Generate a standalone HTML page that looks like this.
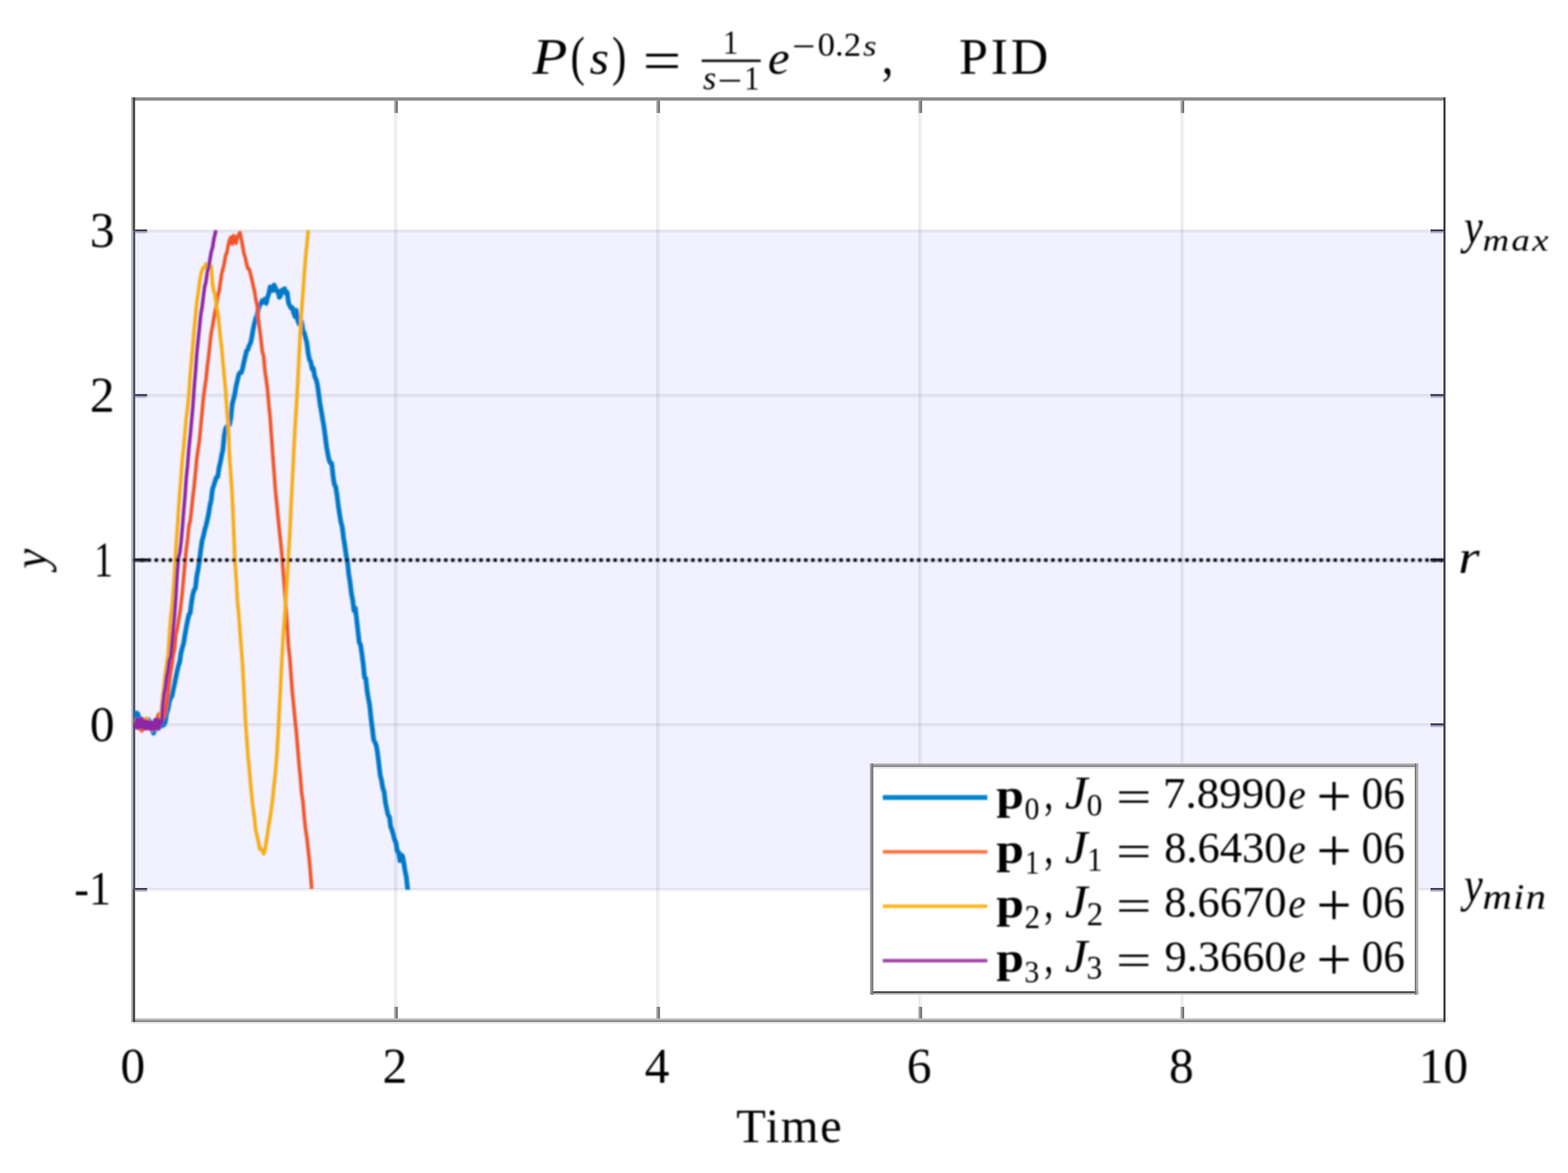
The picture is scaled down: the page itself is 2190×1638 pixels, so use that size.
<!DOCTYPE html>
<html lang="en"><head><meta charset="utf-8"><title>P(s) = 1/(s-1) e^(-0.2s), PID</title>
<style>
html,body{margin:0;padding:0;background:#fff;}
body{width:2190px;height:1638px;overflow:hidden;}
svg{display:block;}
text{font-family:"Liberation Serif", serif;fill:#000;}
</style></head><body>
<svg width="2190" height="1638" viewBox="0 0 2190 1638">
<defs><clipPath id="band"><rect x="187.0" y="321.0" width="1830.5" height="921.6"/></clipPath>
<filter id="soft" x="-2%" y="-2%" width="104%" height="104%"><feGaussianBlur stdDeviation="0.9"/></filter>
<filter id="softc" x="-2%" y="-2%" width="104%" height="104%"><feGaussianBlur stdDeviation="0.8"/></filter></defs>
<rect width="2190" height="1638" fill="#fff"/>
<g>
<rect x="187.0" y="138.0" width="1830.5" height="1287.5" fill="#fff"/>

<rect x="550.50" y="138.0" width="2.6" height="1287.5" fill="rgba(40,40,60,0.095)"/><rect x="553.10" y="138.0" width="2.6" height="1287.5" fill="rgba(40,40,60,0.05)"/>
<rect x="916.60" y="138.0" width="2.6" height="1287.5" fill="rgba(40,40,60,0.095)"/><rect x="919.20" y="138.0" width="2.6" height="1287.5" fill="rgba(40,40,60,0.05)"/>
<rect x="1282.70" y="138.0" width="2.6" height="1287.5" fill="rgba(40,40,60,0.095)"/><rect x="1285.30" y="138.0" width="2.6" height="1287.5" fill="rgba(40,40,60,0.05)"/>
<rect x="1648.80" y="138.0" width="2.6" height="1287.5" fill="rgba(40,40,60,0.095)"/><rect x="1651.40" y="138.0" width="2.6" height="1287.5" fill="rgba(40,40,60,0.05)"/>
<rect x="187.0" y="1239.90" width="1830.5" height="2.5" fill="rgba(40,40,60,0.095)"/><rect x="187.0" y="1242.40" width="1830.5" height="2.5" fill="rgba(40,40,60,0.05)"/>
<rect x="187.0" y="1010.00" width="1830.5" height="2.5" fill="rgba(40,40,60,0.095)"/><rect x="187.0" y="1012.50" width="1830.5" height="2.5" fill="rgba(40,40,60,0.05)"/>
<rect x="187.0" y="780.10" width="1830.5" height="2.5" fill="rgba(40,40,60,0.095)"/><rect x="187.0" y="782.60" width="1830.5" height="2.5" fill="rgba(40,40,60,0.05)"/>
<rect x="187.0" y="550.20" width="1830.5" height="2.5" fill="rgba(40,40,60,0.095)"/><rect x="187.0" y="552.70" width="1830.5" height="2.5" fill="rgba(40,40,60,0.05)"/>
<rect x="187.0" y="320.30" width="1830.5" height="2.5" fill="rgba(40,40,60,0.095)"/><rect x="187.0" y="322.80" width="1830.5" height="2.5" fill="rgba(40,40,60,0.05)"/>
<rect x="183.4" y="135.9" width="1835.6" height="4.70" fill="#8c8c8c"/>
<rect x="183.4" y="1422.2" width="1835.6" height="2.70" fill="#b8b8b8"/>
<rect x="183.4" y="1424.9" width="1835.6" height="2.30" fill="#808080"/>
<rect x="183.4" y="1427.2" width="1835.6" height="2.40" fill="#e6e6e6"/>
<rect x="183.4" y="135.9" width="2.50" height="1291.3" fill="#a4a4a4"/>
<rect x="185.9" y="135.9" width="2.70" height="1291.3" fill="#3a3a3a"/>
<rect x="2016" y="135.9" width="3.00" height="1291.3" fill="#404040"/>
<rect x="550.60" y="140.6" width="2.5" height="17.2" fill="#a2a2a2"/><rect x="553.10" y="140.6" width="2.5" height="17.2" fill="#6c6c6c"/>
<rect x="550.60" y="1405.9" width="2.5" height="16.3" fill="#a2a2a2"/><rect x="553.10" y="1405.9" width="2.5" height="16.3" fill="#6c6c6c"/>
<rect x="916.70" y="140.6" width="2.5" height="17.2" fill="#a2a2a2"/><rect x="919.20" y="140.6" width="2.5" height="17.2" fill="#6c6c6c"/>
<rect x="916.70" y="1405.9" width="2.5" height="16.3" fill="#a2a2a2"/><rect x="919.20" y="1405.9" width="2.5" height="16.3" fill="#6c6c6c"/>
<rect x="1282.80" y="140.6" width="2.5" height="17.2" fill="#a2a2a2"/><rect x="1285.30" y="140.6" width="2.5" height="17.2" fill="#6c6c6c"/>
<rect x="1282.80" y="1405.9" width="2.5" height="16.3" fill="#a2a2a2"/><rect x="1285.30" y="1405.9" width="2.5" height="16.3" fill="#6c6c6c"/>
<rect x="1648.90" y="140.6" width="2.5" height="17.2" fill="#a2a2a2"/><rect x="1651.40" y="140.6" width="2.5" height="17.2" fill="#6c6c6c"/>
<rect x="1648.90" y="1405.9" width="2.5" height="16.3" fill="#a2a2a2"/><rect x="1651.40" y="1405.9" width="2.5" height="16.3" fill="#6c6c6c"/>
<rect x="188.6" y="1240.00" width="16.9" height="2.8" fill="#3e3e50"/><rect x="188.6" y="1242.80" width="16.9" height="2.4" fill="#b4b4c2"/>
<rect x="1998.0" y="1240.00" width="18.0" height="2.8" fill="#3e3e50"/><rect x="1998.0" y="1242.80" width="18.0" height="2.4" fill="#b4b4c2"/>
<rect x="188.6" y="1010.10" width="16.9" height="2.8" fill="#3e3e50"/><rect x="188.6" y="1012.90" width="16.9" height="2.4" fill="#b4b4c2"/>
<rect x="1998.0" y="1010.10" width="18.0" height="2.8" fill="#3e3e50"/><rect x="1998.0" y="1012.90" width="18.0" height="2.4" fill="#b4b4c2"/>
<rect x="188.6" y="780.20" width="16.9" height="2.8" fill="#3e3e50"/><rect x="188.6" y="783.00" width="16.9" height="2.4" fill="#b4b4c2"/>
<rect x="1998.0" y="780.20" width="18.0" height="2.8" fill="#3e3e50"/><rect x="1998.0" y="783.00" width="18.0" height="2.4" fill="#b4b4c2"/>
<rect x="188.6" y="550.30" width="16.9" height="2.8" fill="#3e3e50"/><rect x="188.6" y="553.10" width="16.9" height="2.4" fill="#b4b4c2"/>
<rect x="1998.0" y="550.30" width="18.0" height="2.8" fill="#3e3e50"/><rect x="1998.0" y="553.10" width="18.0" height="2.4" fill="#b4b4c2"/>
<rect x="188.6" y="320.40" width="16.9" height="2.8" fill="#3e3e50"/><rect x="188.6" y="323.20" width="16.9" height="2.4" fill="#b4b4c2"/>
<rect x="1998.0" y="320.40" width="18.0" height="2.8" fill="#3e3e50"/><rect x="1998.0" y="323.20" width="18.0" height="2.4" fill="#b4b4c2"/>
<rect x="183.4" y="322.0" width="2.5" height="919.6" fill="#bcbcc8"/><rect x="185.9" y="322.0" width="2.7" height="919.6" fill="#50536a"/><rect x="2016" y="322.0" width="3" height="919.6" fill="#454860"/>
<rect x="187.0" y="322.0" width="1830.5" height="919.6" fill="#0000ff" fill-opacity="0.055"/>
<g filter="url(#softc)"><g clip-path="url(#band)">
<polyline points="187.0,1002.0 188.8,995.9 190.7,995.6 192.5,997.0 194.3,1003.1 196.2,1011.7 198.0,1008.0 199.8,1014.3 201.6,1010.1 203.5,1005.3 205.3,1006.0 207.1,1004.7 209.0,1007.3 210.8,1014.0 212.6,1019.6 214.5,1023.8 216.3,1017.4 218.1,1014.2 219.9,1016.9 221.8,1012.6 223.6,1014.4 225.4,1012.9 227.3,1013.3 229.1,1011.8 230.9,1008.1 232.8,995.3 234.6,990.6 236.4,980.5 238.2,974.6 240.1,972.4 241.9,963.5 243.7,955.5 245.6,945.8 247.4,937.2 249.2,929.8 251.1,923.8 252.9,911.3 254.7,904.4 256.5,897.8 258.4,886.1 260.2,876.0 262.0,866.7 263.9,858.3 265.7,855.8 267.5,841.1 269.4,829.5 271.2,823.7 273.0,821.2 274.8,804.6 276.7,795.2 278.5,783.3 280.3,768.9 282.2,755.3 284.0,748.9 285.8,740.6 287.7,734.3 289.5,726.3 291.3,717.8 293.1,706.5 295.0,698.2 296.8,683.0 298.6,678.0 300.5,671.7 302.3,666.7 304.1,665.7 306.0,653.1 307.8,645.6 309.6,635.6 311.4,627.5 313.3,607.5 315.1,598.4 316.9,595.5 318.8,593.4 320.6,593.1 322.4,584.2 324.3,564.3 326.1,557.7 327.9,550.6 329.7,539.3 331.6,531.4 333.4,523.1 335.2,520.3 337.1,520.4 338.9,514.3 340.7,505.7 342.6,497.4 344.4,489.9 346.2,488.2 348.0,482.5 349.9,479.1 351.7,471.0 353.5,460.0 355.4,451.7 357.2,444.4 359.0,440.5 360.9,430.9 362.7,425.8 364.5,424.0 366.3,419.7 368.2,421.6 370.0,417.7 371.8,423.6 373.7,415.3 375.5,409.5 377.3,400.7 379.2,402.9 381.0,405.5 382.8,397.9 384.6,401.8 386.5,406.6 388.3,406.5 390.1,415.2 392.0,412.7 393.8,405.0 395.6,407.0 397.5,403.3 399.3,409.4 401.1,408.3 402.9,422.9 404.8,427.0 406.6,430.1 408.4,429.7 410.3,437.2 412.1,442.1 413.9,433.4 415.8,447.2 417.6,452.4 419.4,450.1 421.2,448.8 423.1,461.5 424.9,464.9 426.7,471.4 428.6,478.7 430.4,493.1 432.2,502.2 434.1,505.5 435.9,515.2 437.7,514.4 439.5,525.6 441.4,529.6 443.2,536.5 445.0,549.2 446.9,563.6 448.7,573.9 450.5,584.6 452.4,595.5 454.2,609.0 456.0,623.4 457.8,633.5 459.7,642.6 461.5,646.5 463.3,647.0 465.2,665.1 467.0,676.6 468.8,679.3 470.7,691.3 472.5,705.9 474.3,718.1 476.1,728.6 478.0,736.0 479.8,750.7 481.6,762.1 483.5,775.6 485.3,784.7 487.1,802.0 489.0,813.4 490.8,828.8 492.6,837.8 494.4,852.7 496.3,849.4 498.1,864.7 499.9,881.2 501.8,897.5 503.6,900.2 505.4,913.0 507.3,926.7 509.1,945.8 510.9,947.2 512.7,964.4 514.6,975.8 516.4,985.5 518.2,1003.3 520.1,1017.7 521.9,1033.2 523.7,1036.5 525.6,1041.3 527.4,1052.3 529.2,1067.0 531.0,1082.7 532.9,1089.6 534.7,1100.6 536.5,1105.6 538.4,1121.2 540.2,1129.9 542.0,1138.2 543.9,1140.5 545.7,1154.6 547.5,1159.1 549.3,1165.4 551.2,1172.8 553.0,1176.6 554.8,1188.4 556.7,1189.9 558.5,1201.8 560.3,1193.7 562.2,1195.6 564.0,1205.0 565.8,1216.5 567.6,1225.0 569.5,1243.4 570.2,1241.2" fill="none" stroke="#0078c8" stroke-width="6.6" stroke-linejoin="round" stroke-linecap="butt"/>
<polyline points="187.0,1010.0 188.8,1013.7 190.7,1005.7 192.5,1008.5 194.3,1014.0 196.2,1018.3 198.0,1020.5 199.8,1018.6 201.6,1012.8 203.5,1008.9 205.3,1012.9 207.1,1017.5 209.0,1010.2 210.8,1015.4 212.6,1011.9 214.5,1013.9 216.3,1011.8 218.1,1006.4 219.9,1000.9 221.8,997.1 223.6,998.3 225.4,1003.8 227.3,1003.5 229.1,1000.4 230.9,992.7 232.8,982.3 234.6,968.9 236.4,954.1 238.2,939.6 240.1,928.3 241.9,914.5 243.7,907.3 245.6,885.8 247.4,878.8 249.2,867.1 251.1,857.0 252.9,843.1 254.7,826.6 256.5,806.4 258.4,785.6 260.2,767.1 262.0,753.3 263.9,734.2 265.7,727.5 267.5,711.9 269.4,693.0 271.2,678.9 273.0,660.8 274.8,640.9 276.7,627.2 278.5,615.4 280.3,596.0 282.2,576.0 284.0,556.5 285.8,542.6 287.7,530.3 289.5,512.0 291.3,498.2 293.1,481.4 295.0,465.0 296.8,456.0 298.6,444.7 300.5,434.2 302.3,426.3 304.1,413.0 306.0,406.7 307.8,394.6 309.6,382.3 311.4,375.5 313.3,367.1 315.1,357.0 316.9,352.6 318.8,342.4 320.6,335.5 322.4,331.3 324.3,340.7 326.1,329.1 327.9,336.2 329.7,339.7 331.6,329.8 333.4,327.9 335.2,324.9 337.1,334.2 338.9,343.7 340.7,353.7 342.6,359.7 344.4,368.3 346.2,375.1 348.0,375.6 349.9,382.7 351.7,390.1 353.5,398.1 355.4,406.3 357.2,417.7 359.0,425.3 360.9,445.8 362.7,460.2 364.5,473.9 366.3,490.5 368.2,497.2 370.0,518.0 371.8,530.2 373.7,544.4 375.5,565.6 377.3,582.8 379.2,610.1 381.0,635.4 382.8,659.4 384.6,683.9 386.5,703.1 388.3,721.8 390.1,739.5 392.0,757.1 393.8,776.1 395.6,799.3 397.5,822.9 399.3,847.4 401.1,871.6 402.9,902.6 404.8,918.9 406.6,944.1 408.4,967.8 410.3,986.8 412.1,1004.9 413.9,1022.3 415.8,1044.9 417.6,1066.9 419.4,1084.0 421.2,1106.6 423.1,1119.1 424.9,1140.4 426.7,1157.6 428.6,1169.6 430.4,1186.2 432.2,1202.8 434.1,1225.6 435.4,1241.2" fill="none" stroke="#f0552a" stroke-width="5.0" stroke-linejoin="round" stroke-linecap="butt"/>
<polyline points="187.0,1011.0 188.8,1006.4 190.7,1013.5 192.5,1007.5 194.3,1010.3 196.2,1010.1 198.0,1011.4 199.8,1011.4 201.6,1005.0 203.5,1003.1 205.3,1003.5 207.1,1006.4 209.0,1012.1 210.8,1016.6 212.6,1019.7 214.5,1019.1 216.3,1015.4 218.1,1013.9 219.9,1014.2 221.8,1007.5 223.6,1003.4 225.4,992.4 227.3,972.8 229.1,957.3 230.9,941.2 232.8,927.6 234.6,915.8 236.4,891.1 238.2,863.6 240.1,849.5 241.9,827.5 243.7,802.5 245.6,768.4 247.4,742.1 249.2,714.5 251.1,687.5 252.9,666.2 254.7,641.0 256.5,624.8 258.4,604.0 260.2,582.9 262.0,569.8 263.9,549.4 265.7,523.9 267.5,503.5 269.4,481.5 271.2,460.3 273.0,442.6 274.8,422.4 276.7,410.2 278.5,395.8 280.3,384.2 282.2,377.7 284.0,373.6 285.8,374.0 287.7,368.3 289.5,374.6 291.3,372.0 293.1,373.1 295.0,371.7 296.8,397.1 298.6,406.7 300.5,412.6 302.3,428.0 304.1,435.9 306.0,453.3 307.8,470.7 309.6,485.6 311.4,505.9 313.3,526.5 315.1,544.6 316.9,572.8 318.8,595.5 320.6,638.3 322.4,663.4 324.3,691.3 326.1,733.2 327.9,780.5 329.7,805.8 331.6,838.9 333.4,857.4 335.2,882.9 337.1,905.9 338.9,930.7 340.7,964.5 342.6,1002.6 344.4,1028.4 346.2,1054.2 348.0,1071.9 349.9,1093.9 351.7,1112.9 353.5,1128.6 355.4,1142.2 357.2,1159.5 359.0,1166.8 360.9,1175.9 362.7,1185.6 364.5,1184.9 366.3,1188.3 368.2,1192.3 370.0,1187.4 371.8,1176.0 373.7,1164.1 375.5,1151.2 377.3,1141.4 379.2,1128.1 381.0,1114.1 382.8,1095.4 384.6,1079.8 386.5,1055.6 388.3,1027.8 390.1,991.7 392.0,955.0 393.8,920.5 395.6,887.6 397.5,862.4 399.3,835.6 401.1,807.3 402.9,776.0 404.8,744.2 406.6,704.0 408.4,670.2 410.3,630.7 412.1,596.9 413.9,568.9 415.8,536.3 417.6,498.8 419.4,462.9 421.2,434.9 423.1,409.5 424.9,383.7 426.7,361.0 428.6,341.5 430.4,323.2 430.7,321.6" fill="none" stroke="#f6ad18" stroke-width="5.0" stroke-linejoin="round" stroke-linecap="butt"/>
<polyline points="187.0,1010.0 188.8,1015.8 190.7,1004.3 192.5,1016.9 194.3,1005.1 196.2,1014.7 198.0,1003.1 199.8,1015.9 201.6,1006.3 203.5,1017.8 205.3,1007.0 207.1,1016.9 209.0,1008.2 210.8,1018.9 212.6,1009.1 214.5,1018.7 216.3,1005.2 218.1,1016.9 219.9,1004.3 221.8,1017.8 223.6,1006.0 225.4,1010.7 227.3,984.5 229.1,969.2 230.9,960.0 232.8,944.4 234.6,935.9 236.4,921.1 238.2,918.0 240.1,899.3 241.9,878.9 243.7,859.4 245.6,834.3 247.4,801.9 249.2,778.9 251.1,771.8 252.9,757.0 254.7,737.2 256.5,713.7 258.4,692.8 260.2,666.8 262.0,649.3 263.9,625.3 265.7,608.4 267.5,588.7 269.4,567.4 271.2,541.0 273.0,520.0 274.8,494.0 276.7,474.9 278.5,458.4 280.3,439.9 282.2,429.2 284.0,414.5 285.8,400.9 287.7,393.0 289.5,380.0 291.3,374.1 293.1,363.1 295.0,351.8 296.8,346.0 298.6,334.4 300.5,326.4 301.6,321.6" fill="none" stroke="#8c28a2" stroke-width="5.0" stroke-linejoin="round" stroke-linecap="butt"/>
</g>
<line x1="196.3" y1="782.1" x2="2016.5" y2="782.1" stroke="#000" stroke-width="4.8" stroke-dasharray="4.6 5.26"/>
<rect x="186.5" y="780.1" width="19.5" height="3.6" fill="#15151f"/><rect x="1998.5" y="780.1" width="18" height="3.6" fill="#15151f"/>
</g>
<rect x="1217" y="1068.7" width="761.2" height="318.2" fill="#fff"/>
<rect x="1215" y="1070.9" width="766.0" height="2.6" fill="#e8e8e8"/>
<rect x="1215" y="1066.2" width="766.0" height="2.5" fill="#a8a8b0"/>
<rect x="1215" y="1068.7" width="766.0" height="2.2" fill="#808080"/>
<rect x="1215" y="1384.2" width="766.0" height="2.7" fill="#484848"/>
<rect x="1215" y="1386.9" width="766.0" height="2.2" fill="#c0c0c0"/>
<rect x="1215" y="1066.2" width="2.0" height="322.9" fill="#a4a4ae"/>
<rect x="1217" y="1066.2" width="2.8" height="322.9" fill="#7c7c7c"/>
<rect x="1976" y="1066.2" width="2.2" height="322.9" fill="#787878"/>
<rect x="1978.2" y="1066.2" width="2.7" height="322.9" fill="#acacac"/>
<g filter="url(#softc)">
<line x1="1233" y1="1113.6" x2="1379" y2="1113.6" stroke="#0084cc" stroke-width="6.6"/>
<line x1="1233" y1="1189.6" x2="1379" y2="1189.6" stroke="#ff7444" stroke-width="5"/>
<line x1="1233" y1="1265.6" x2="1379" y2="1265.6" stroke="#ffb81e" stroke-width="5"/>
<line x1="1233" y1="1341.6" x2="1379" y2="1341.6" stroke="#a34aa8" stroke-width="5"/>
</g>
<g filter="url(#soft)">
<line x1="980" y1="84.8" x2="1062.5" y2="84.8" stroke="#000" stroke-width="3.3"/>
<text x="160" y="345.3" font-size="69" text-anchor="end" fill="#2e2e2e">3</text>
<text x="160" y="575.2" font-size="69" text-anchor="end" fill="#2e2e2e">2</text>
<text x="160" y="1035.0" font-size="69" text-anchor="end" fill="#2e2e2e">0</text>
<text x="185.5" y="1512" font-size="69" text-anchor="middle" fill="#2e2e2e">0</text>
<text x="551.6" y="1512" font-size="69" text-anchor="middle" fill="#2e2e2e">2</text>
<text x="917.7" y="1512" font-size="69" text-anchor="middle" fill="#2e2e2e">4</text>
<text x="1283.8" y="1512" font-size="69" text-anchor="middle" fill="#2e2e2e">6</text>
<text x="1649.9" y="1512" font-size="69" text-anchor="middle" fill="#2e2e2e">8</text>
<text x="2016.0" y="1512" font-size="69" text-anchor="middle" fill="#2e2e2e">10</text>
<text transform="translate(743.70 103.20) scale(1.0985 1)" font-size="72.52" font-style="italic">P</text>
<text transform="translate(796.76 103.63) scale(0.8045 1)" font-size="75.56">(</text>
<text transform="translate(823.46 103.35) scale(1.0771 1)" font-size="64.58" font-style="italic">s</text>
<text transform="translate(854.69 103.63) scale(0.7992 1)" font-size="75.56">)</text>
<text transform="translate(897.74 110.63) scale(1.2341 1)" font-size="77.20">=</text>
<text transform="translate(1009.64 74.60) scale(0.9326 1)" font-size="45.95">1</text>
<text transform="translate(981.78 124.72) scale(0.9895 1)" font-size="48.33" font-style="italic">s</text>
<text transform="translate(1001.94 130.46) scale(1.1787 1)" font-size="52.00">−</text>
<text transform="translate(1039.39 125.00) scale(0.9171 1)" font-size="46.11">1</text>
<text transform="translate(1072.45 103.35) scale(1.0600 1)" font-size="64.58" font-style="italic">e</text>
<text transform="translate(1106.32 81.86) scale(1.1084 1)" font-size="52.00">−</text>
<text transform="translate(1142.06 77.51) scale(1.0567 1)" font-size="45.88">0.2</text>
<text transform="translate(1205.48 77.79) scale(1.1606 1)" font-size="41.46" font-style="italic">s</text>
<text transform="translate(1231.38 103.03) scale(0.8568 1)" font-size="76.47">,</text>
<text transform="translate(1339.42 103.20) scale(1.0000 1)" font-size="72.52" letter-spacing="3.96">PID</text>
<text transform="translate(2044.72 339.90) scale(0.8696 1)" font-size="67.91" font-style="italic">y</text>
<text transform="translate(2070.81 349.76) scale(1.1600 1)" font-size="44.17" font-style="italic" fill="#222" letter-spacing="2.82">max</text>
<text transform="translate(2036.64 799.63) scale(1.1636 1)" font-size="65.81" font-style="italic">r</text>
<text transform="translate(2044.72 1259.20) scale(0.8696 1)" font-size="67.91" font-style="italic">y</text>
<text transform="translate(2070.61 1269.00) scale(1.1400 1)" font-size="50.00" font-style="italic" fill="#222" letter-spacing="1.39">min</text>
<text transform="translate(1391.56 1128.57) scale(1.1539 1)" font-size="60.15" font-weight="bold">p</text>
<text transform="translate(1430.94 1143.55) scale(0.9260 1)" font-size="44.74">0</text>
<text transform="translate(1458.39 1129.41) scale(0.7132 1)" font-size="70.59">,</text>
<text transform="translate(1487.33 1128.64) scale(1.0833 1)" font-size="65.91" font-style="italic">J</text>
<text transform="translate(1517.65 1139.15) scale(0.9664 1)" font-size="45.33">0</text>
<text transform="translate(1558.81 1133.96) scale(1.3883 1)" font-size="63.20">=</text>
<text transform="translate(1624.32 1128.27) scale(1.0119 1)" font-size="62.06">7.8990</text>
<text transform="translate(1799.35 1128.61) scale(0.9384 1)" font-size="58.75" font-style="italic">e</text>
<text transform="translate(1838.62 1140.32) scale(1.0271 1)" font-size="85.22">+</text>
<text transform="translate(1901.79 1128.57) scale(0.9649 1)" font-size="62.52">06</text>
<text transform="translate(1391.56 1204.57) scale(1.1539 1)" font-size="60.15" font-weight="bold">p</text>
<text transform="translate(1431.85 1220.00) scale(0.8552 1)" font-size="46.11">1</text>
<text transform="translate(1458.39 1205.41) scale(0.7132 1)" font-size="70.59">,</text>
<text transform="translate(1487.33 1204.64) scale(1.0833 1)" font-size="65.91" font-style="italic">J</text>
<text transform="translate(1518.39 1215.60) scale(0.9051 1)" font-size="46.72">1</text>
<text transform="translate(1558.81 1209.96) scale(1.3883 1)" font-size="63.20">=</text>
<text transform="translate(1625.91 1204.27) scale(1.0024 1)" font-size="62.06">8.6430</text>
<text transform="translate(1799.35 1204.61) scale(0.9384 1)" font-size="58.75" font-style="italic">e</text>
<text transform="translate(1838.62 1216.32) scale(1.0271 1)" font-size="85.22">+</text>
<text transform="translate(1901.79 1204.57) scale(0.9649 1)" font-size="62.52">06</text>
<text transform="translate(1391.56 1280.57) scale(1.1539 1)" font-size="60.15" font-weight="bold">p</text>
<text transform="translate(1430.94 1296.00) scale(0.9507 1)" font-size="45.76">2</text>
<text transform="translate(1458.39 1281.41) scale(0.7132 1)" font-size="70.59">,</text>
<text transform="translate(1487.33 1280.64) scale(1.0833 1)" font-size="65.91" font-style="italic">J</text>
<text transform="translate(1517.63 1291.60) scale(0.9922 1)" font-size="46.36">2</text>
<text transform="translate(1558.81 1285.96) scale(1.3883 1)" font-size="63.20">=</text>
<text transform="translate(1625.91 1280.27) scale(1.0024 1)" font-size="62.06">8.6670</text>
<text transform="translate(1799.35 1280.61) scale(0.9384 1)" font-size="58.75" font-style="italic">e</text>
<text transform="translate(1838.62 1292.32) scale(1.0271 1)" font-size="85.22">+</text>
<text transform="translate(1901.79 1280.57) scale(0.9649 1)" font-size="62.52">06</text>
<text transform="translate(1391.56 1356.57) scale(1.1539 1)" font-size="60.15" font-weight="bold">p</text>
<text transform="translate(1430.81 1371.55) scale(0.9253 1)" font-size="45.07">3</text>
<text transform="translate(1458.39 1357.41) scale(0.7132 1)" font-size="70.59">,</text>
<text transform="translate(1487.33 1356.64) scale(1.0833 1)" font-size="65.91" font-style="italic">J</text>
<text transform="translate(1517.49 1367.14) scale(0.9666 1)" font-size="45.67">3</text>
<text transform="translate(1558.81 1361.96) scale(1.3883 1)" font-size="63.20">=</text>
<text transform="translate(1626.54 1356.27) scale(0.9987 1)" font-size="62.06">9.3660</text>
<text transform="translate(1799.35 1356.61) scale(0.9384 1)" font-size="58.75" font-style="italic">e</text>
<text transform="translate(1838.62 1368.32) scale(1.0271 1)" font-size="85.22">+</text>
<text transform="translate(1901.79 1356.57) scale(0.9649 1)" font-size="62.52">06</text>
<text transform="translate(131.47 804.60) scale(0.7535 1)" font-size="69.77" fill="#2e2e2e">1</text>
<text transform="translate(103.65 1262.80) scale(0.9113 1)" font-size="67.48" fill="#2e2e2e">-1</text>
<text transform="translate(1028.14 1594.72) scale(1.0000 1)" font-size="67.76" fill="#2e2e2e" letter-spacing="2.31">Time</text>
<text transform="translate(64.75 794.24) rotate(-90) scale(0.9510 1)" font-size="66.27" font-style="italic">y</text>
</g>
</g></svg></body></html>
